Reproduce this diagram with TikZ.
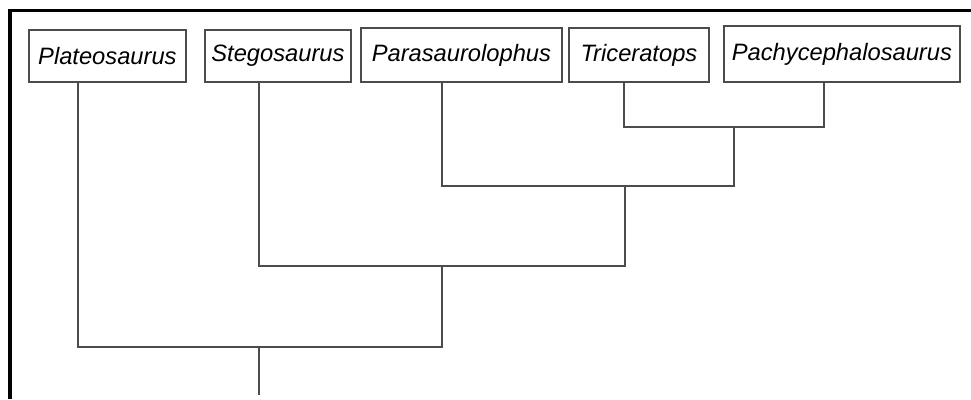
\documentclass[tikz,border=0pt]{standalone}
\usepackage{fontspec}
\setmainfont{Liberation Sans}

\begin{document}
\begin{tikzpicture}[x=1pt, y=-1pt,
    taxon/.style={draw=black!70, line width=1.8pt, inner sep=0pt, anchor=north west,
        font=\fontsize{23.7}{28}\selectfont\itshape},
    branch/.style={draw=black!70, line width=1.8pt}]
    % Frame
    \useasboundingbox (0,0) rectangle (971,399);
    \draw[line width=3.8pt] (10,399) |- (971,10.5);

    % Taxa boxes
    \foreach \n/\x/\y/\w/\h/\t in {plate/28/29/157/52/Plateosaurus,
        stego/204/29/146/52/Stegosaurus,
        para/360/27/201/54/Parasaurolophus,
        tric/568/27/140/54/Triceratops,
        pachy/723/25/236/56/Pachycephalosaurus}
    {
        \node[taxon, minimum width=\w pt, minimum height=\h pt] (\n) at (\x,\y) {\t};
    }

    % Where the branches leave the boxes
    \foreach \n/\x in {plate/78, stego/259, para/442, tric/624, pachy/824}
    {
        \coordinate (\n-foot) at (\x,0 |- \n.south);
    }

    % Joints
    \coordinate (c1) at (734,127);
    \coordinate (c2) at (625,186);
    \coordinate (c3) at (442,266);
    \coordinate (c4) at (259,347);
    \coordinate (root) at (259,395);

    % Branches
    \draw[branch] (tric-foot) |- (c1) -| (pachy-foot);
    \draw[branch] (para-foot) |- (c2) -| (c1);
    \draw[branch] (stego-foot) |- (c3) -| (c2);
    \draw[branch] (plate-foot) |- (c4) -| (c3);
    \draw[branch] (c4) -- (root);
\end{tikzpicture}
\end{document}
